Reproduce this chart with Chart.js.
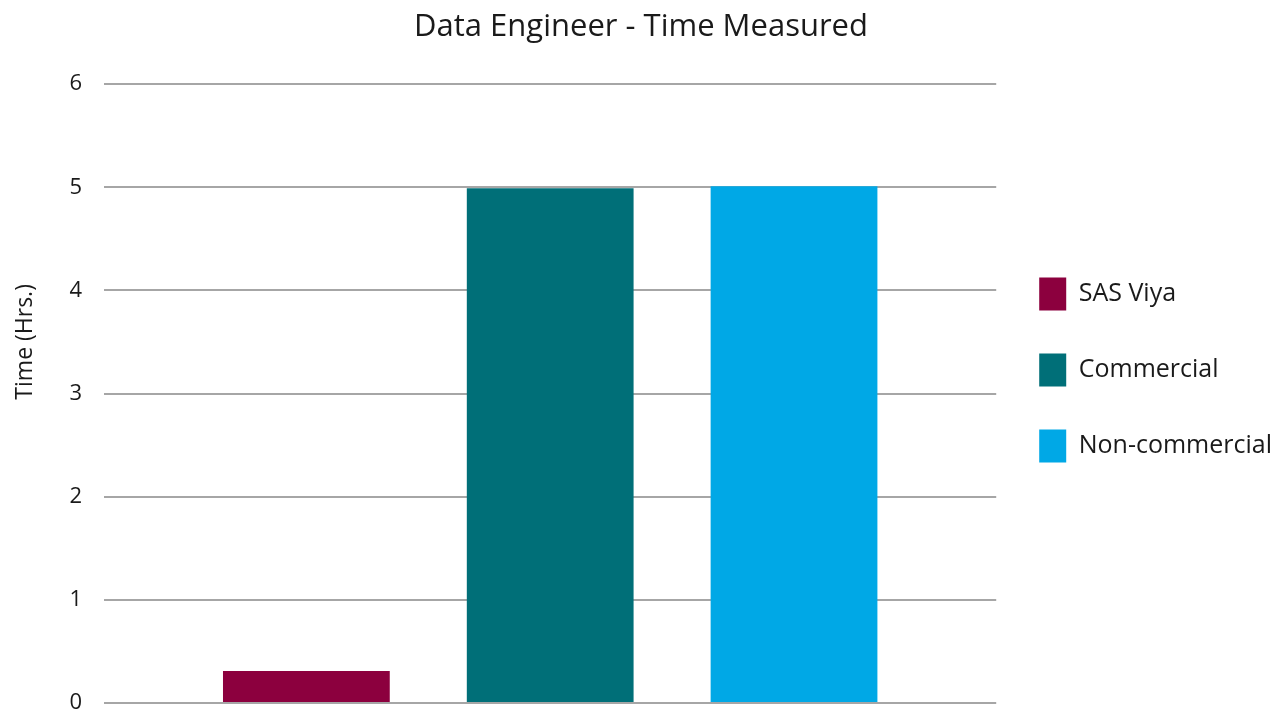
<!DOCTYPE html>
<html>
<head>
<meta charset="utf-8">
<script src="https://cdn.jsdelivr.net/npm/chart.js@4"></script>
<style>
    body { margin: 0; background: #fff; }
    #wrap { width: 1282px; height: 713px; }
</style>
</head>
<body>
<div id="wrap"><canvas id="timeChart"></canvas></div>
<script>
const categories = ['Data Engineer']
const seriesNames = ['SAS Viya', 'Commercial', 'Non-commercial']
const seriesValues = [[0.31], [4.99], [5.01]]
const seriesColors = ['#8c003e', '#006f78', '#00a8e6']
const yTicks = [0, 1, 2, 3, 4, 5, 6]

Chart.defaults.font.family = "'Open Sans', sans-serif"
Chart.defaults.color = '#1a1a1a'

const datasets = seriesNames.map((name, i) => ({
    label: name,
    data: seriesValues[i],
    backgroundColor: seriesColors[i],
    barPercentage: 0.684,
    categoryPercentage: 0.82,
}))

const ctx = document.getElementById('timeChart').getContext('2d')
new Chart(ctx, {
    type: 'bar',
    data: {
        labels: categories,
        datasets: datasets,
    },
    options: {
        responsive: true,
        maintainAspectRatio: false,
        animation: false,
        plugins: {
            title: {
                display: true,
                text: 'Data Engineer - Time Measured',
                font: { size: 31, weight: 'normal' },
                color: '#1a1a1a',
                padding: { top: 9, bottom: 38 },
            },
            legend: {
                position: 'right',
                align: 'start',
                title: {
                    // spacer so the items sit where the original had them
                    display: true,
                    text: '',
                    font: { size: 12 },
                    padding: { top: 0, bottom: 220 },
                },
                labels: {
                    boxWidth: 27,
                    boxHeight: 33,
                    padding: 43,
                    font: { size: 25 },
                    color: '#1a1a1a',
                },
            },
            tooltip: { enabled: false },
        },
        scales: {
            x: {
                display: false,
            },
            y: {
                min: 0,
                max: 6,
                afterBuildTicks: (axis) => {
                    axis.ticks = yTicks.map((v) => ({ value: v }))
                },
                // tick padding would otherwise also push the plot up from the bottom
                afterFit: (axis) => {
                    axis.paddingBottom = 10
                },
                border: { display: false },
                grid: {
                    color: '#a6a6a6',
                    lineWidth: 2,
                    drawTicks: false,
                },
                ticks: {
                    padding: 22,
                    font: { size: 22 },
                    color: '#1a1a1a',
                },
                title: {
                    display: true,
                    // leading spaces lift the title above the axis middle, as in the original
                    text: '\u2003\u2003\u2003\u2003\u2002Time (Hrs.)',
                    font: { size: 23 },
                    color: '#1a1a1a',
                    padding: { top: 12, bottom: 8 },
                },
            },
        },
    },
})
</script>
</body>
</html>
